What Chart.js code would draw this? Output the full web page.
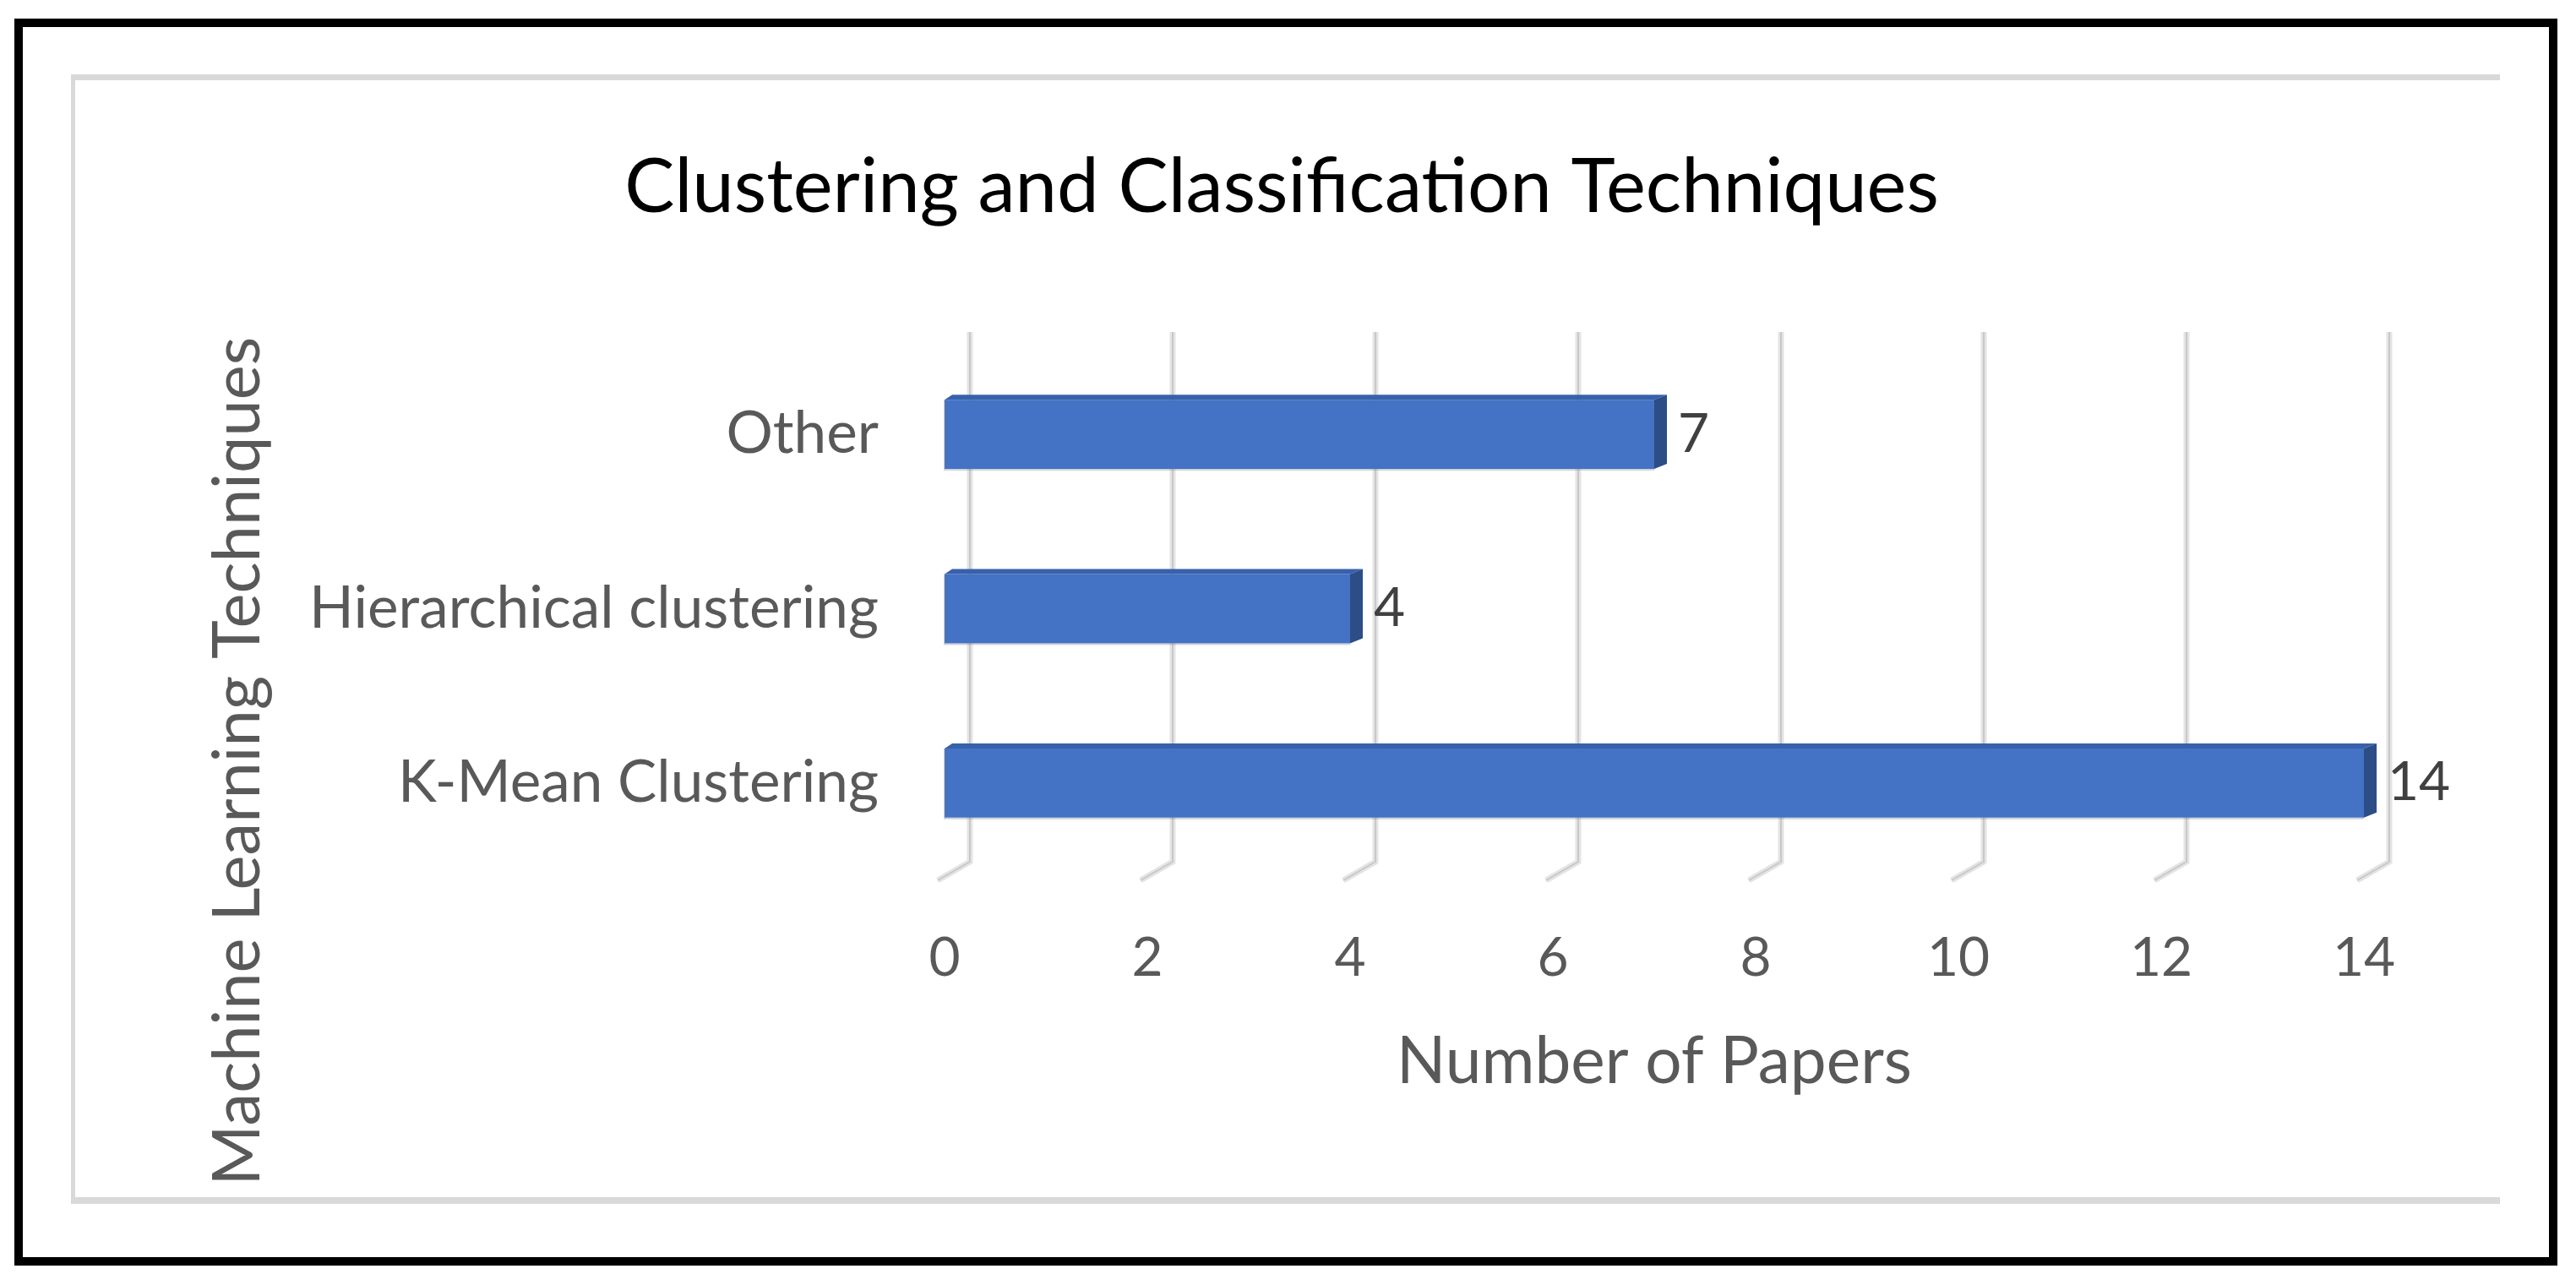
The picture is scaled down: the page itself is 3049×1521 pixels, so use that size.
<!DOCTYPE html>
<html>
<head>
<meta charset="utf-8">
<script src="https://cdn.jsdelivr.net/npm/chart.js@4.4.1/dist/chart.umd.min.js"></script>
<style>
  html, body { margin: 0; padding: 0; background: #ffffff; }
  #chart { display: block; }
</style>
</head>
<body>
<canvas id="chart" width="3049" height="1521"></canvas>
<script>
// Chart data
const chartTitle = 'Clustering and Classification Techniques';
const xAxisTitle = 'Number of Papers';
const yAxisTitle = 'Machine Learning Techniques';
const techniques = ['Other', 'Hierarchical clustering', 'K-Mean Clustering'];
const paperCounts = [7, 4, 14];
const xTickValues = [0, 2, 4, 6, 8, 10, 12, 14];

const FONT = 'Lato, "Open Sans", sans-serif';
const GREY_TEXT = '#595959';

// pick a font size so that a text has a given width
function fitSize(text, width) {
    const c = document.createElement('canvas').getContext('2d');
    c.font = '100px ' + FONT;
    return 100 * width / c.measureText(text).width;
}

const titleSize = fitSize(chartTitle, 1556);
const axisTitleSize = fitSize(xAxisTitle, 610);
const yTitleSize = fitSize(yAxisTitle, 1005);
const catSize = fitSize('Hierarchical clustering', 674);
const tickSize = 64;

// layout targets (canvas pixels)
const areaTop = 411, areaBottom = 1030, areaLeft = 1118, areaRight = 2798;
const padTop = 222 - 0.6 * titleSize;
const titleGap = areaTop - padTop - 1.2 * titleSize;
const tickPad = 1134 - areaBottom - 0.6 * tickSize;
const xTitlePadTop = 1257 - areaBottom - tickPad - 1.2 * tickSize - 0.6 * axisTitleSize;
const xAxisHeight = tickPad + 1.2 * tickSize + xTitlePadTop + 1.2 * axisTitleSize;
const padLeft = 236;

// frames around the picture
const framePlugin = {
    id: 'frame',
    beforeDraw(chart) {
        const ctx = chart.ctx;
        ctx.save();
        ctx.fillStyle = '#ffffff';
        ctx.fillRect(0, 0, chart.width, chart.height);
        // light grey chart border (top, left, bottom)
        ctx.fillStyle = '#d9d9d9';
        ctx.fillRect(84, 88, 2875, 7);
        ctx.fillRect(84, 88, 5, 1337);
        ctx.fillRect(84, 1417, 2875, 8);
        // black outer border
        ctx.fillStyle = '#000000';
        ctx.fillRect(17, 22, 3010, 10);
        ctx.fillRect(17, 22, 10, 1476);
        ctx.fillRect(3017, 22, 10, 1476);
        ctx.fillRect(17, 1488, 3010, 10);
        ctx.restore();
    }
};

// 3D style gridlines on the back wall
const wallGridPlugin = {
    id: 'wallGrid',
    beforeDatasetsDraw(chart) {
        const ctx = chart.ctx;
        const xs = chart.scales.x;
        const area = chart.chartArea;
        ctx.save();
        xTickValues.forEach(v => {
            const gx = xs.getPixelForValue(v) + 30;
            const y1 = area.top - 18;
            const y2 = area.bottom - 10;
            [['#e4e4e4', 7], ['#c8c8c8', 2]].forEach(([col, w]) => {
                ctx.strokeStyle = col;
                ctx.lineWidth = w;
                ctx.beginPath();
                ctx.moveTo(gx, y1);
                ctx.lineTo(gx, y2);
                ctx.lineTo(gx - 38, area.bottom + 12);
                ctx.stroke();
            });
        });
        ctx.restore();
    }
};

// extruded bar faces, value labels and rotated y title
const barFacesPlugin = {
    id: 'barFaces',
    afterDatasetsDraw(chart) {
        const ctx = chart.ctx;
        const meta = chart.getDatasetMeta(0);
        const dx = 15, dy = 6;
        ctx.save();
        meta.data.forEach((bar, i) => {
            const left = bar.base;
            const right = bar.x;
            const top = bar.y - bar.height / 2;
            const bottom = bar.y + bar.height / 2;
            // soft outline
            ctx.strokeStyle = 'rgba(120,130,150,0.35)';
            ctx.lineWidth = 2;
            ctx.beginPath();
            ctx.moveTo(left, top);
            ctx.lineTo(left, bottom + 1);
            ctx.lineTo(right, bottom + 1);
            ctx.stroke();
            // top face
            ctx.fillStyle = '#3761ab';
            ctx.beginPath();
            ctx.moveTo(left, top);
            ctx.lineTo(left + dx * 0.6, top - dy);
            ctx.lineTo(right + dx, top - dy);
            ctx.lineTo(right, top);
            ctx.closePath();
            ctx.fill();
            // side face
            ctx.fillStyle = '#2c4d86';
            ctx.beginPath();
            ctx.moveTo(right, top);
            ctx.lineTo(right + dx, top - dy);
            ctx.lineTo(right + dx, bottom - dy);
            ctx.lineTo(right, bottom);
            ctx.closePath();
            ctx.fill();
            // value label
            ctx.fillStyle = '#404040';
            ctx.font = tickSize + 'px ' + FONT;
            ctx.textAlign = 'left';
            ctx.textBaseline = 'middle';
            ctx.fillText(String(paperCounts[i]), right + 28, bar.y);
        });
        // y axis title, centred on the whole chart box
        ctx.translate(282, 901);
        ctx.rotate(-Math.PI / 2);
        ctx.fillStyle = GREY_TEXT;
        ctx.font = yTitleSize + 'px ' + FONT;
        ctx.textAlign = 'center';
        ctx.textBaseline = 'middle';
        ctx.fillText(yAxisTitle, 0, 0);
        ctx.restore();
    }
};

const ctx = document.getElementById('chart').getContext('2d');
new Chart(ctx, {
    type: 'bar',
    data: {
        labels: techniques,
        datasets: [{
            label: xAxisTitle,
            data: paperCounts,
            backgroundColor: '#4472c4',
            borderWidth: 0,
            barPercentage: 0.397,
            categoryPercentage: 1
        }]
    },
    options: {
        indexAxis: 'y',
        responsive: false,
        animation: false,
        devicePixelRatio: 1,
        layout: {
            padding: {
                top: padTop,
                left: padLeft,
                right: 3049 - areaRight,
                bottom: 1521 - areaBottom - xAxisHeight
            }
        },
        plugins: {
            legend: { display: false },
            tooltip: { enabled: false },
            title: {
                display: true,
                text: chartTitle,
                color: '#000000',
                font: { family: FONT, size: titleSize, weight: 'normal', lineHeight: 1.2 },
                padding: { top: 0, bottom: titleGap }
            }
        },
        scales: {
            x: {
                min: 0,
                max: 14,
                grid: { display: false, drawTicks: false },
                border: { display: false },
                ticks: {
                    stepSize: 2,
                    maxRotation: 0,
                    padding: tickPad,
                    color: GREY_TEXT,
                    font: { family: FONT, size: tickSize, lineHeight: 1.2 }
                },
                title: {
                    display: true,
                    text: xAxisTitle,
                    color: GREY_TEXT,
                    font: { family: FONT, size: axisTitleSize, lineHeight: 1.2 },
                    padding: { top: xTitlePadTop, bottom: 0 }
                },
                afterFit(scale) {
                    scale.height = xAxisHeight;
                }
            },
            y: {
                grid: { display: false, drawTicks: false },
                border: { display: false },
                ticks: {
                    padding: areaLeft - 1040,
                    color: GREY_TEXT,
                    font: { family: FONT, size: catSize, lineHeight: 1.2 }
                },
                afterFit(scale) {
                    scale.width = areaLeft - padLeft;
                }
            }
        }
    },
    plugins: [framePlugin, wallGridPlugin, barFacesPlugin]
});
</script>
</body>
</html>
